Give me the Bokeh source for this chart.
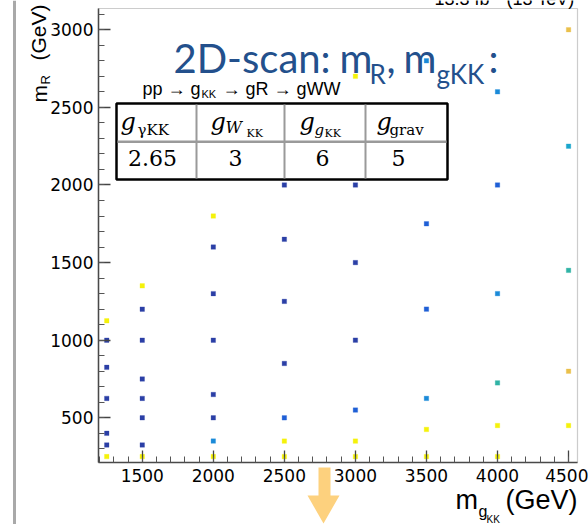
import math
from bokeh.plotting import figure
from bokeh.models import (ColumnDataSource, LinearColorMapper, Label, BoxAnnotation,
                          PolyAnnotation, SingleIntervalTicker, Range1d)
from bokeh.transform import transform
from bokeh.embed import file_html
from bokeh.resources import INLINE

# ---------------- data ----------------
m_gkk = [1250, 1250, 1250, 1250, 1250, 1250, 1250,
         1500, 1500, 1500, 1500, 1500, 1500, 1500, 1500,
         2000, 2000, 2000, 2000, 2000, 2000, 2000, 2000,
         2500, 2500, 2500, 2500, 2500, 2500, 2500,
         3000, 3000, 3000, 3000, 3000, 3000, 3000,
         3500, 3500, 3500, 3500, 3500, 3500,
         4000, 4000, 4000, 4000, 4000, 4000,
         4500, 4500, 4500, 4500, 4500]
m_r = [1125, 1000, 825, 625, 400, 325, 250,
       1350, 1200, 1000, 750, 625, 500, 325, 250,
       1800, 1600, 1300, 1000, 650, 500, 350, 250,
       2000, 1650, 1250, 850, 500, 350, 250,
       2700, 2000, 1500, 1000, 550, 350, 250,
       2800, 1750, 1200, 625, 425, 250,
       2600, 2000, 1300, 725, 450, 250,
       3000, 2250, 1450, 800, 450]
z_bin = [6, 0, 0, 0, 0, 0, 6,
         6, 0, 0, 0, 0, 0, 0, 6,
         6, 0, 0, 0, 0, 0, 2, 6,
         0, 0, 0, 0, 1, 6, 6,
         6, 0, 0, 0, 1, 6, 6,
         2, 1, 1, 2, 6, 6,
         2, 1, 2, 4, 6, 6,
         5, 3, 4, 5, 6]
palette = ["#2b3fa6", "#1f5fd6", "#1a8ad8", "#1aa6cc", "#2fb3a5", "#eac04a", "#f5f20a"]

x_lo, x_hi = 1192, 4563      # visible axis extent (GeV)
y_lo, y_hi = 212, 3137
tick_interval = 500
table_heads = ["γKK", "W", "g", "grav"]
table_values = ["2.65", "3", "6", "5"]

# ---------------- page geometry ----------------
W, H = 588, 524
FL, FR, FT, FB = 98, 577, 8, 462   # where the axes box sits on the page
kx = (x_hi - x_lo) / (FR - FL)
ky = (y_hi - y_lo) / (FB - FT)

p = figure(width=W, height=H, output_backend="svg", toolbar_location=None,
           x_range=Range1d(x_lo - FL * kx, x_hi + (W - FR) * kx),
           y_range=Range1d(y_lo - (H - FB) * ky, y_hi + FT * ky),
           min_border=0, min_border_left=0, min_border_right=0,
           min_border_top=0, min_border_bottom=0)
p.background_fill_color = "white"
p.border_fill_color = "white"
p.outline_line_color = None
p.xgrid.visible = False
p.ygrid.visible = False

p.xaxis.fixed_location = y_lo
p.yaxis.fixed_location = x_lo
p.xaxis.bounds = (x_lo, x_hi)
p.yaxis.bounds = (y_lo, y_hi)

for ax in (p.xaxis[0], p.yaxis[0]):
    ax.ticker = SingleIntervalTicker(interval=tick_interval, num_minor_ticks=5)
    ax.major_tick_in = 12
    ax.major_tick_out = 0
    ax.minor_tick_in = 6
    ax.minor_tick_out = 0
    ax.axis_line_color = "#444444"
    ax.axis_line_width = 1.5
    ax.major_tick_line_color = "#444444"
    ax.major_tick_line_width = 1.3
    ax.minor_tick_line_color = "#555555"
    ax.major_label_text_font = "DejaVu Sans"
    ax.major_label_text_font_size = "17px"
    ax.major_label_text_color = "black"
p.xaxis.major_label_standoff = 6
p.yaxis.major_label_standoff = 5

# frame border (top / right)
p.add_layout(BoxAnnotation(left=x_lo, right=x_hi, bottom=y_lo, top=y_hi,
                           fill_alpha=0.0, line_color="#555555", line_width=1.2))

src = ColumnDataSource(dict(x=m_gkk, y=m_r, z=z_bin))
mapper = LinearColorMapper(palette=palette, low=-0.5, high=6.5)
p.scatter("x", "y", source=src, marker="square", size=4.5,
          fill_color=transform("z", mapper), line_color=transform("z", mapper), line_width=0.3)


# ---------------- page-pixel helpers ----------------
def sy(Y):
    return H - Y


BASE_SHIFT = 0.38   # measured offset of the rendered baseline, in em


def lab(txt, X, Y, size, color="black", font="Liberation Sans", style="normal",
        align="left", angle=0.0):
    if angle == 0.0:
        Y = Y - BASE_SHIFT * size
    else:
        X = X - BASE_SHIFT * size
    p.add_layout(Label(x=X, y=sy(Y), x_units="screen", y_units="screen", text=txt,
                       text_font=font, text_font_size=f"{size}px", text_color=color,
                       text_font_style=style, text_align=align,
                       text_baseline="alphabetic", angle=angle))


def poly(xs, ys, color):
    p.add_layout(PolyAnnotation(xs=list(xs), ys=[sy(v) for v in ys],
                                xs_units="screen", ys_units="screen",
                                fill_color=color, fill_alpha=1.0, line_alpha=0.0))


def box(L, R, T, B, fill="white", line=None, lw=0):
    p.add_layout(BoxAnnotation(left=L, right=R, top=sy(T), bottom=sy(B),
                               left_units="screen", right_units="screen",
                               top_units="screen", bottom_units="screen",
                               fill_color=fill, fill_alpha=1.0,
                               line_color=line if line else fill,
                               line_alpha=1.0 if line else 0.0, line_width=lw))


# slide left rule and arrow
poly([12.5, 15.5, 15.5, 12.5], [0, 0, 524, 524], "#a9a9a9")
poly([318, 330, 330, 339, 323, 307, 318], [467, 467, 495, 495, 523, 495, 495], "#fdd17e")

# top-right (cut) luminosity text
lab("13.3 fb⁻¹ (13 TeV)", 574, 5, 18, align="right")

# axis titles
lab("m", 47, 102, 21, angle=math.pi / 2)
lab("R", 50, 84, 13, angle=math.pi / 2)
lab("(GeV)", 46, 60, 21, angle=math.pi / 2)
lab("m", 455, 510, 27)
lab("g", 478, 517, 16)
lab("KK", 486, 523, 10)
lab("(GeV)", 577, 510, 27, align="right")

# slide title
tc = "#23508C"
lab("2D-scan:", 173, 73, 40, color=tc, font="Lato")
lab("m", 339, 73, 40, color=tc, font="Lato")
lab("R", 369, 83, 26, color=tc, font="Lato")
lab(",", 386, 73, 40, color=tc, font="Lato")
lab("m", 403, 73, 40, color=tc, font="Lato")
lab("gKK", 436, 83, 26, color=tc, font="Lato")
lab(":", 488, 73, 40, color=tc, font="Lato")

# process line
lab("pp → g", 142, 95, 18)
lab("KK", 201, 98, 11)
lab("→ gR → gWW", 222, 95, 18)

# table
box(116, 447, 103, 179, fill="white", line="black", lw=2.5)
box(117, 446, 140, 142.5, fill="#9a9a9a")
for xv in (195, 283, 364):
    box(xv, xv + 2, 104, 178, fill="#9a9a9a")

serif = "DejaVu Serif"
lab("g", 120, 131, 24, font=serif, style="italic")
lab(table_heads[0], 137, 135, 15, font=serif)
lab("g", 210, 131, 24, font=serif, style="italic")
lab(table_heads[1], 225, 133, 16, font=serif, style="italic")
lab("KK", 246, 137, 11, font=serif)
lab("g", 299, 131, 24, font=serif, style="italic")
lab(table_heads[2], 314, 135, 15, font=serif, style="italic")
lab("KK", 324, 137, 11, font=serif)
lab("g", 376, 131, 24, font=serif, style="italic")
lab(table_heads[3], 389, 135, 15, font=serif)

for cx, v in zip((152, 235, 322, 398), table_values):
    lab(v, cx, 166, 22, font=serif, align="center")

open("out.html", "w").write(file_html(p, INLINE))
